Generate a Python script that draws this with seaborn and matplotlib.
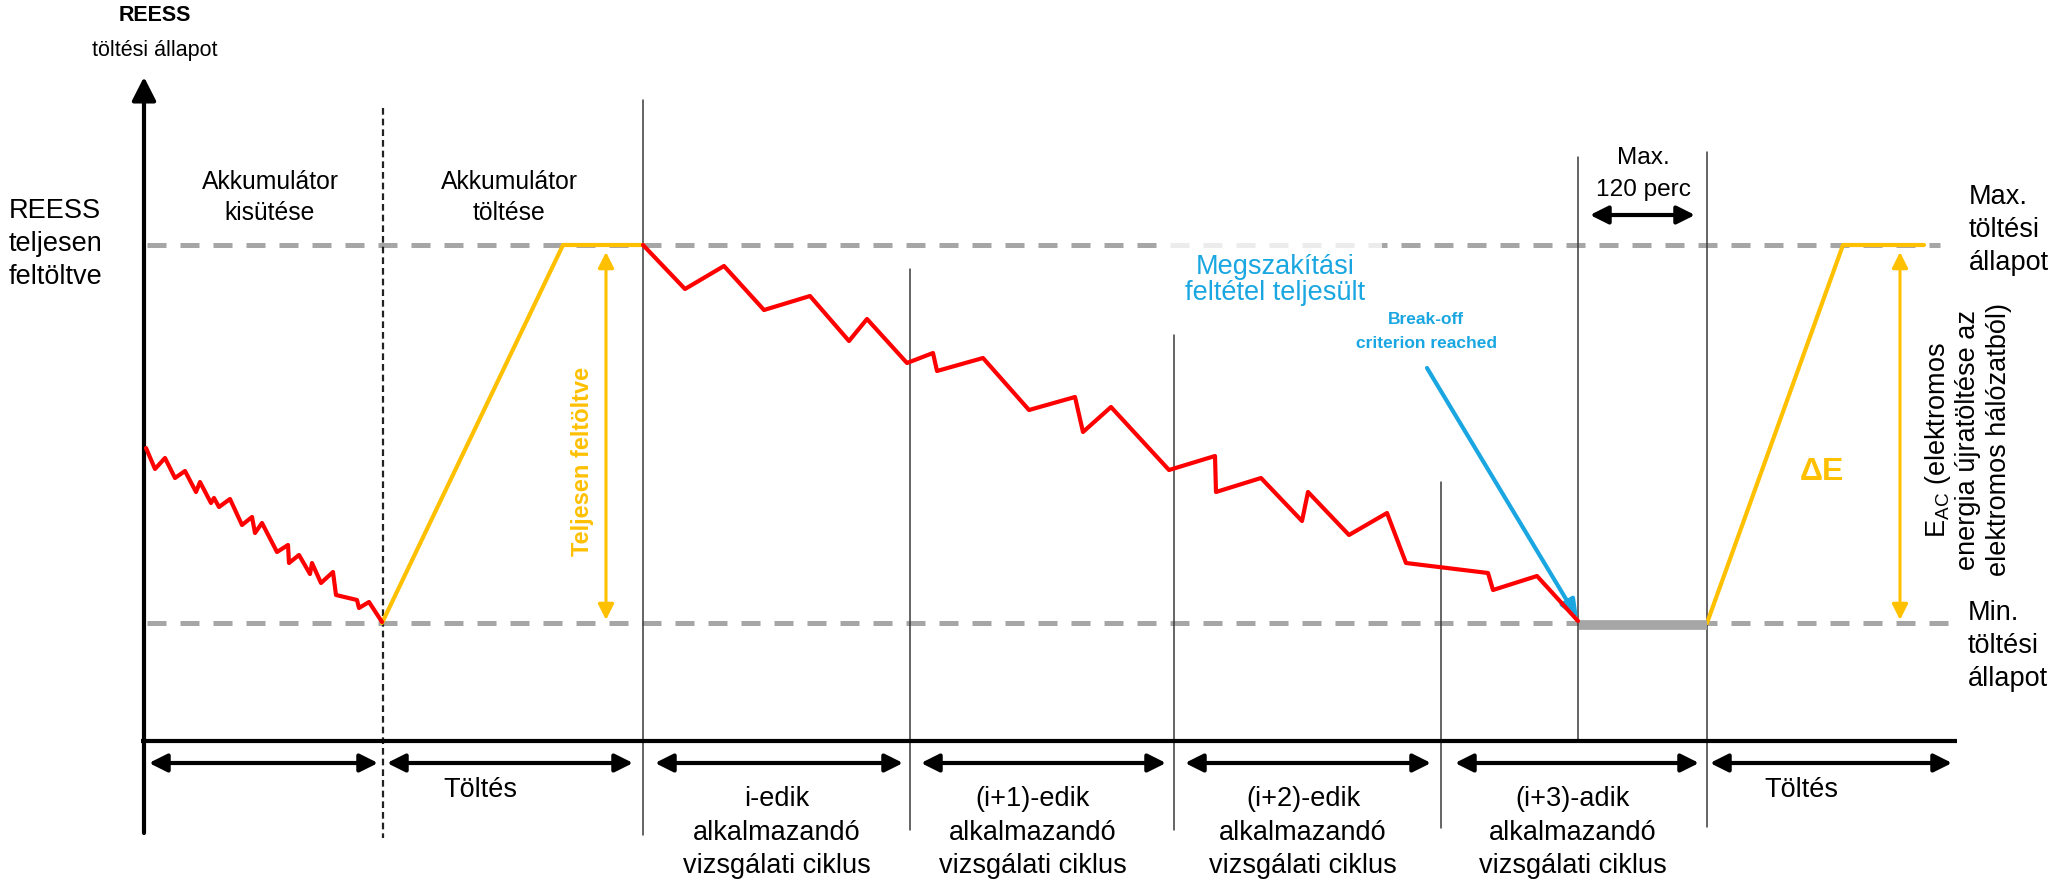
import matplotlib
matplotlib.use("Agg")
import matplotlib.pyplot as plt
import seaborn as sns

# Diagram units: canvas pixels (2060 x 886), y grows downward.
SOC_MAX = 245   # "Max. töltési állapot"
SOC_MIN = 623   # "Min. töltési állapot"
AXIS_Y = 741
AXIS_X = 144

# discharge before the first charge
discharge_x = [146, 155, 165, 175, 185, 196, 200, 211, 214, 219, 230, 242, 252, 255, 262,
               277, 288, 289, 299, 310, 312, 321, 333, 336, 357, 359, 369, 382]
discharge_y = [448, 469, 458, 478, 471, 492, 482, 503, 498, 507, 499, 525, 517, 533, 523,
               552, 545, 563, 555, 574, 563, 583, 572, 595, 600, 608, 602, 622]

# the test cycles i .. i+3
cycle_x = [643, 685, 724, 764, 810, 849, 867, 907, 933, 937, 983, 1029, 1075, 1083, 1111,
           1169, 1215, 1216, 1261, 1302, 1308, 1349, 1387, 1406, 1488, 1493, 1537, 1578]
cycle_y = [245, 289, 266, 310, 296, 341, 319, 363, 353, 371, 358, 410, 397, 432, 407,
           470, 456, 492, 478, 521, 492, 535, 513, 563, 573, 590, 576, 621]

charge1_x = [382, 563, 643]
charge1_y = [SOC_MIN, SOC_MAX, SOC_MAX]
charge2_x = [1707, 1843, 1924]
charge2_y = [SOC_MIN, SOC_MAX, SOC_MAX]
soak_x = [1579, 1707]

# phase boundaries
bound_x = [643, 910, 1174, 1441, 1578, 1707]
bound_top = [100, 269, 335, 482, 157, 152]
bound_bottom = [835, 830, 830, 828, AXIS_Y, 827]
dashed_bound_x = 383

# phase arrows below the time axis
phase_start = [149, 387, 655, 921, 1185, 1455, 1710]
phase_end = [378, 633, 903, 1166, 1431, 1699, 1952]

cycle_label_x = [777, 1033, 1303, 1573]
cycle_names = ["i-edik", "(i+1)-edik", "(i+2)-edik", "(i+3)-adik"]
charge_label_x = [480, 1801]

RED = "#FF0000"
YELLOW = "#FFC000"
GREY = "#A6A6A6"
BLUE = "#1AA7E1"
LINE = "#3A3A3A"


def stack(ax, x, y0, lines, dy, **kw):
    for i, s in enumerate(lines):
        ax.text(x, y0 + i * dy, s, **kw)


def darrow(ax, x0, y0, x1, y1, color="black", lw=3, ms=18, style="<|-|>,head_length=0.6,head_width=0.3"):
    ax.annotate("", xy=(x1, y1), xytext=(x0, y0),
                arrowprops=dict(arrowstyle=style, color=color, lw=lw,
                                mutation_scale=ms, shrinkA=0, shrinkB=0))


def main():
    sns.set_theme(style="white")
    plt.rcParams["font.family"] = ["Liberation Sans", "DejaVu Sans"]
    plt.rcParams["mathtext.fontset"] = "custom"
    plt.rcParams["mathtext.rm"] = "Liberation Sans"

    fig = plt.figure(figsize=(20.6, 8.86), dpi=100)
    ax = fig.add_axes([0, 0, 1, 1])
    ax.set_xlim(0, 2060)
    ax.set_ylim(886, 0)
    ax.axis("off")

    # SOC limit lines
    ax.plot([147, 1940], [SOC_MAX, SOC_MAX], color=GREY, lw=3.6, ls=(0, (3.8, 2.8)),
            solid_capstyle="butt", zorder=1)
    ax.plot([147, 1957], [SOC_MIN, SOC_MIN], color=GREY, lw=3.6, ls=(0, (3.8, 2.8)),
            solid_capstyle="butt", zorder=1)

    # phase boundaries
    for x, t, b in zip(bound_x, bound_top, bound_bottom):
        ax.plot([x, x], [t, b], color=LINE, lw=1.1, zorder=2)
    ax.plot([dashed_bound_x] * 2, [108, 838], color="#222222", lw=1.6,
            ls=(0, (3, 1.8)), zorder=2)

    # axes
    ax.plot([141, 1957], [AXIS_Y, AXIS_Y], color="black", lw=3, zorder=3,
            solid_capstyle="butt")
    darrow(ax, AXIS_X, 833, AXIS_X, 77, lw=3, ms=26,
           style="-|>,head_length=0.55,head_width=0.28")

    # SOC traces
    sns.lineplot(x=discharge_x, y=discharge_y, sort=False, estimator=None, ax=ax,
                 color=RED, lw=3, zorder=5)
    sns.lineplot(x=cycle_x, y=cycle_y, sort=False, estimator=None, ax=ax,
                 color=RED, lw=3, zorder=5)
    sns.lineplot(x=charge1_x, y=charge1_y, sort=False, estimator=None, ax=ax,
                 color=YELLOW, lw=3, zorder=4)
    sns.lineplot(x=charge2_x, y=charge2_y, sort=False, estimator=None, ax=ax,
                 color=YELLOW, lw=3, zorder=4)
    ax.plot(soak_x, [625, 625], color=GREY, lw=7, solid_capstyle="butt", zorder=4)

    # yellow energy arrows
    darrow(ax, 606, 620, 606, 252, color=YELLOW, lw=2.2, ms=16)
    darrow(ax, 1900, 620, 1900, 252, color=YELLOW, lw=2.2, ms=16)

    # phase arrows
    for s, e in zip(phase_start, phase_end):
        darrow(ax, s, 763, e, 763, lw=3, ms=18)
    darrow(ax, 1590, 215, 1695, 215, lw=3, ms=18)

    # break-off pointer
    darrow(ax, 1427, 368, 1578, 619, color=BLUE, lw=3, ms=16,
           style="-|>,head_length=0.7,head_width=0.3")

    txt = dict(color="black", ha="center", va="center")
    ax.text(155, 15, "REESS", fontsize=15.5, fontweight="bold", **txt)
    ax.text(155, 50, "töltési állapot", fontsize=15.5, **txt)
    stack(ax, 9, 211, ["REESS", "teljesen", "feltöltve"], 33, fontsize=19.5,
          color="black", ha="left", va="center")
    stack(ax, 270, 182, ["Akkumulátor", "kisütése"], 31, fontsize=17.8, **txt)
    stack(ax, 509, 182, ["Akkumulátor", "töltése"], 31, fontsize=17.8, **txt)
    stack(ax, 1643, 158, ["Max.", "120 perc"], 32, fontsize=17.6, **txt)
    stack(ax, 1969, 197, ["Max.", "töltési", "állapot"], 33, fontsize=19.5,
          color="black", ha="left", va="center")
    stack(ax, 1968, 613, ["Min.", "töltési", "állapot"], 33, fontsize=19.5,
          color="black", ha="left", va="center")

    for x, name in zip(cycle_label_x, cycle_names):
        stack(ax, x, 799, [name, "alkalmazandó", "vizsgálati ciklus"], 33.5,
              fontsize=19.5, **txt)
    for x in charge_label_x:
        ax.text(x, 790, "Töltés", fontsize=19.5, **txt)

    mg = ax.text(1275, 280, "Megszakítási\nfeltétel teljesült", fontsize=19.5, color=BLUE,
                 ha="center", va="center", linespacing=1.05, zorder=6)
    mg.set_bbox(dict(facecolor="white", edgecolor="none", alpha=0.8, pad=12))
    stack(ax, 1426, 320, ["Break-off", "criterion reached"], 23, fontsize=12.5,
          fontweight="bold", color=BLUE, ha="center", va="center")

    ax.text(582, 461, "Teljesen feltöltve", fontsize=17, fontweight="bold", color=YELLOW,
            rotation=90, ha="center", va="center")
    ax.text(1822, 472, "ΔE", fontsize=23, fontweight="bold", color=YELLOW,
            ha="center", va="center")
    eac_lines = [r"E$_{\mathrm{AC}}$ (elektromos", "energia újratöltése az",
                 "elektromos hálózatból)"]
    for x, s in zip([1938, 1968, 1999], eac_lines):
        ax.text(x, 440, s, fontsize=19.5, color="black", rotation=90,
                ha="center", va="center")

    fig.savefig("out.png", dpi=100)
    plt.close(fig)


if __name__ == "__main__":
    main()
